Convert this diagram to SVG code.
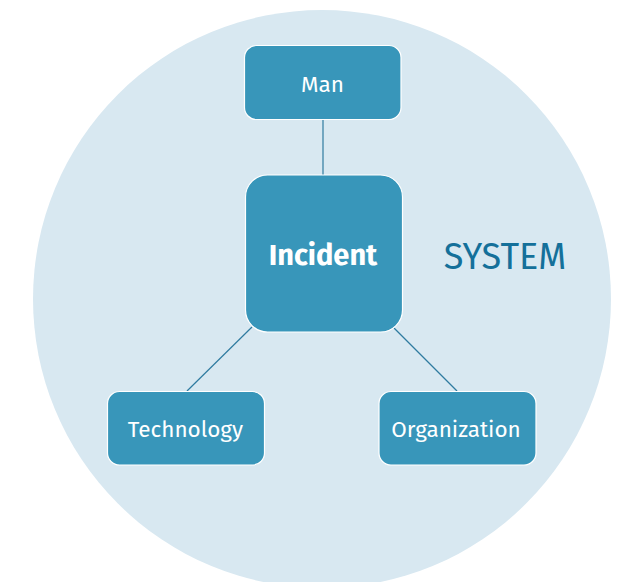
<svg xmlns="http://www.w3.org/2000/svg" width="621" height="582" viewBox="0 0 621 582">
<style>
.box{fill:#3896ba;stroke:#ffffff;stroke-width:1.2}
.lbl{fill:#ffffff;font-family:"Fira Sans","Liberation Sans",Arial,sans-serif;font-size:22.5px;text-anchor:middle}
.big{font-size:29px;font-weight:bold}
.conn{stroke:#2f7ba0;stroke-width:1.2;fill:none}
</style>
<rect width="621" height="582" fill="#ffffff"/>
<circle cx="322" cy="299" r="289" fill="#d8e8f1"/>
<g id="connectors">
<line class="conn" x1="323" y1="120" x2="323" y2="175"/>
<line class="conn" x1="252" y1="327" x2="187" y2="391"/>
<line class="conn" x1="394" y1="328" x2="457" y2="391"/>
</g>
<g id="man">
<rect class="box" x="244.5" y="45.5" width="156.5" height="74" rx="12"/>
<text class="lbl" x="322.5" y="92">Man</text>
</g>
<g id="incident">
<rect class="box" x="245.5" y="175" width="157" height="157" rx="22"/>
<text class="lbl big" x="323" y="265">Incident</text>
</g>
<g id="technology">
<rect class="box" x="107.5" y="391.5" width="157" height="73.5" rx="12"/>
<text class="lbl" x="185.5" y="437">Technology</text>
</g>
<g id="organization">
<rect class="box" x="379" y="391.5" width="157" height="73.5" rx="12"/>
<text class="lbl" x="456" y="437">Organization</text>
</g>
<g id="system">
<text x="505" y="268.5" text-anchor="middle" font-family="'Fira Sans','Liberation Sans',Arial,sans-serif" font-size="36" fill="#14709a">SYSTEM</text>
</g>
</svg>
